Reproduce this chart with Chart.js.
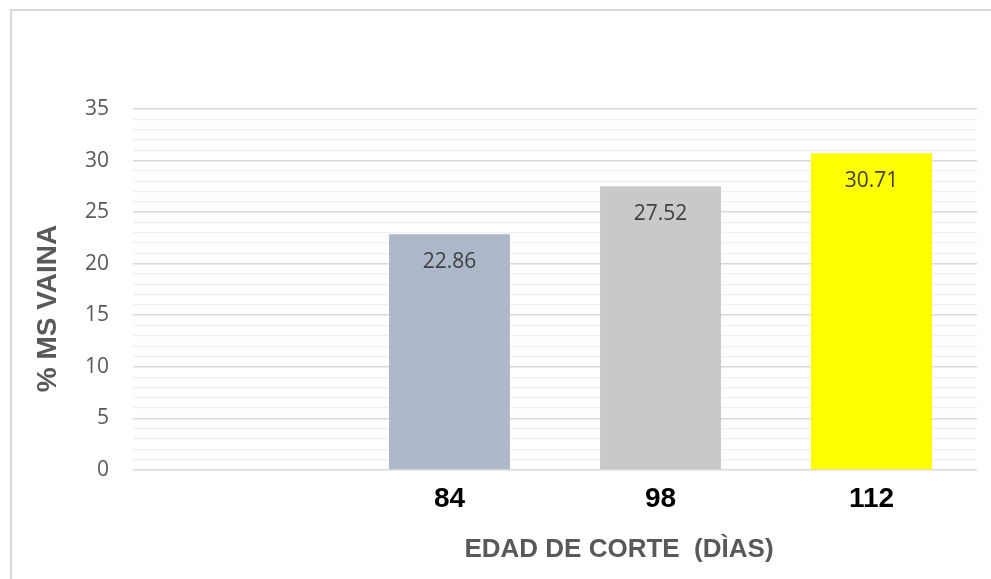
<!DOCTYPE html>
<html>
<head>
<meta charset="utf-8">
<script src="https://cdn.jsdelivr.net/npm/chart.js@4.4.0/dist/chart.umd.min.js"></script>
<style>
    body { margin: 0; background: #fff; }
    #wrap { position: relative; width: 991px; height: 579px; }
    #frame {
        position: absolute; left: 10px; top: 9px; right: 0; bottom: 0;
        border-top: 2px solid #d9d9d9; border-left: 2px solid #d9d9d9;
        pointer-events: none;
    }
</style>
</head>
<body>
<div id="wrap">
    <canvas id="myChart" width="991" height="579"></canvas>
    <div id="frame"></div>
</div>
<script>
const DIAS = ["", "84", "98", "112"];
const MS_VAINA = [null, 22.86, 27.52, 30.71];
const COLORES = ["#adb9ca", "#adb9ca", "#c9c9c9", "#ffff00"];
const Y_TITLE = "% MS VAINA";
const X_TITLE = "EDAD DE CORTE  (DÌAS)";

// value labels inside the top of each bar
const barLabels = {
    id: "barLabels",
    afterDatasetsDraw(chart) {
        const ctx = chart.ctx;
        const meta = chart.getDatasetMeta(0);
        ctx.save();
        ctx.font = "21px 'Open Sans'";
        ctx.fillStyle = "#404040";
        ctx.textAlign = "center";
        ctx.textBaseline = "alphabetic";
        meta.data.forEach((bar, i) => {
            const v = MS_VAINA[i];
            if (v == null) return;
            ctx.fillText(v.toFixed(2), bar.x, bar.y + 34);
        });
        ctx.restore();
    },
};

// axis titles (x title sits right of centre, as in the original)
const axisTitles = {
    id: "axisTitles",
    afterDraw(chart) {
        const ctx = chart.ctx;
        const a = chart.chartArea;
        ctx.save();
        ctx.fillStyle = "#595959";
        ctx.textAlign = "center";
        ctx.textBaseline = "middle";
        ctx.font = "bold 26px 'Liberation Sans'";
        ctx.fillText(X_TITLE, a.left + 486, a.bottom + 80);
        ctx.translate(a.left - 85, (a.top + a.bottom) / 2 + 19);
        ctx.rotate(-Math.PI / 2);
        ctx.font = "bold 28px 'Liberation Sans'";
        ctx.fillText(Y_TITLE, 0, 0);
        ctx.restore();
    },
};

const config = {
    type: "bar",
    data: {
        labels: DIAS,
        datasets: [
            {
                data: MS_VAINA,
                backgroundColor: COLORES,
                borderWidth: 0,
                barPercentage: 0.573,
                categoryPercentage: 1,
            },
        ],
    },
    options: {
        responsive: false,
        animation: false,
        layout: { padding: { top: 109, right: 14, left: 0, bottom: 0 } },
        plugins: {
            legend: { display: false },
            tooltip: { enabled: false },
        },
        scales: {
            x: {
                afterFit: (s) => { s.height = 109; },
                grid: { display: false, drawTicks: false },
                border: { display: false },
                ticks: {
                    padding: 12,
                    color: "#000",
                    font: { family: "'Liberation Sans'", size: 28, weight: "bold" },
                },
            },
            y: {
                min: 0,
                max: 35,
                afterFit: (s) => { s.width = 133; },
                border: { display: false },
                grid: {
                    drawTicks: false,
                    color: (c) => (c.tick.value % 5 === 0 ? "#d9d9d9" : "#f0f0f0"),
                    lineWidth: (c) => (c.tick.value % 5 === 0 ? 1.6 : 1.3),
                },
                ticks: {
                    stepSize: 1,
                    autoSkip: false,
                    padding: 24,
                    color: "#595959",
                    font: { family: "Open Sans", size: 21 },
                    callback: (v) => (v % 5 === 0 ? v : ""),
                },
            },
        },
    },
    plugins: [barLabels, axisTitles],
};

var ctx = document.getElementById("myChart").getContext("2d");
var myChart = new Chart(ctx, config);
</script>
</body>
</html>
